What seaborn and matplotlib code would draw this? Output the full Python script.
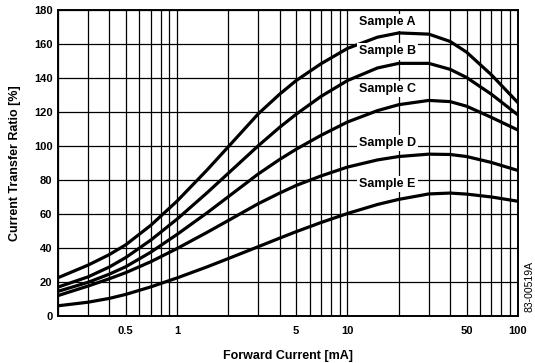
import matplotlib
matplotlib.use("Agg")
import matplotlib.pyplot as plt
import seaborn as sns
import pandas as pd

# ---- data ----
current_ma = [0.2, 0.3, 0.4, 0.5, 0.7, 1, 1.5, 2, 3, 4, 5, 7, 10, 15, 20, 30, 40, 50, 70, 100]
sample_a = [22.5, 29.9, 36.1, 41.9, 53.3, 67.6, 85.9, 99.6, 119, 130.5, 138.5, 148.4, 157.4, 164, 166.5, 165.8, 161.5, 155.2, 141.8, 125.5]
sample_b = [17, 23, 28.8, 34.4, 44.6, 57, 72.5, 84, 100.2, 111, 118.7, 129.2, 138.5, 145.9, 148.6, 148.6, 145.1, 140.3, 130.4, 118.3]
sample_c = [14.5, 19.8, 24.6, 29, 37.5, 48, 60.7, 70.2, 83.6, 92.1, 98.1, 106.3, 114.1, 120.8, 124.3, 126.8, 126.1, 123.4, 116.8, 109.4]
sample_d = [12, 17.6, 21.9, 25.5, 31.9, 39.7, 49.2, 56.2, 66.1, 72.3, 76.8, 82.4, 87.6, 91.8, 93.8, 95.2, 95, 93.8, 90.3, 85.6]
sample_e = [6, 8.1, 10.35, 12.7, 17.1, 22.4, 28.9, 33.8, 40.8, 45.8, 49.6, 55, 60.3, 65.6, 68.6, 71.8, 72.3, 71.7, 70, 67.5]

series_names = ["Sample A", "Sample B", "Sample C", "Sample D", "Sample E"]
label_x = [17.2, 17.2, 17.2, 17.2, 17.2]
label_y = [172.7, 155.6, 133.4, 101.6, 77.6]

x_tick_labels = {0.5: "0.5", 1: "1", 5: "5", 10: "10", 50: "50", 100: "100"}
y_ticks = list(range(0, 181, 20))

# ---- build long table ----
frames = []
for name, vals in zip(series_names, [sample_a, sample_b, sample_c, sample_d, sample_e]):
    frames.append(pd.DataFrame({"current": current_ma, "ctr": vals, "sample": name}))
df = pd.concat(frames, ignore_index=True)

sns.set_theme(style="white")
plt.rcParams["font.family"] = ["Liberation Sans", "DejaVu Sans"]

fig = plt.figure(figsize=(5.35, 3.63), dpi=100)
ax = fig.add_axes([0.1084, 0.1295, 0.8596, 0.843])

sns.lineplot(data=df, x="current", y="ctr", hue="sample",
             palette=["black"] * 5, linewidth=2.3, legend=False, ax=ax,
             solid_capstyle="round", solid_joinstyle="round", zorder=3)

ax.set_xscale("log")
ax.set_xlim(0.2, 100)
ax.set_ylim(0, 180)

grid_x = []
for dec in [0.1, 1, 10]:
    for m in range(1, 10):
        v = round(dec * m, 4)
        if 0.2 <= v <= 100:
            grid_x.append(v)
grid_x.append(100)
ax.set_xticks(grid_x)
ax.set_xticklabels([x_tick_labels.get(v, "") for v in grid_x])
ax.xaxis.set_minor_locator(matplotlib.ticker.NullLocator())
ax.set_yticks(y_ticks)
ax.set_yticklabels([str(v) for v in y_ticks])

ax.grid(True, which="major", color="black", linewidth=0.9, zorder=1)
ax.set_axisbelow(True)
ax.tick_params(axis="both", length=0, labelsize=8, colors="black")
ax.tick_params(axis="x", pad=7)
ax.tick_params(axis="y", pad=4)
for lab in ax.get_xticklabels() + ax.get_yticklabels():
    lab.set_fontweight("bold")

for sp in ax.spines.values():
    sp.set_color("black")
    sp.set_linewidth(1.4)
    sp.set_visible(True)

ax.set_xlabel("Forward Current [mA]", fontsize=9, fontweight="bold", labelpad=10, color="black")
ax.set_ylabel("Current Transfer Ratio [%]", fontsize=9, fontweight="bold", labelpad=9, color="black")

for name, lx, ly in zip(series_names, label_x, label_y):
    ax.text(lx, ly, name, fontsize=9, fontweight="bold", ha="center", va="center",
            color="black", zorder=4,
            bbox=dict(facecolor="white", edgecolor="none", pad=1.5))

fig.text(0.99, 0.21, "83-00519A", rotation=90, fontsize=7.5, ha="center", va="center", color="black")

fig.savefig("out.png", dpi=100, facecolor="white")
